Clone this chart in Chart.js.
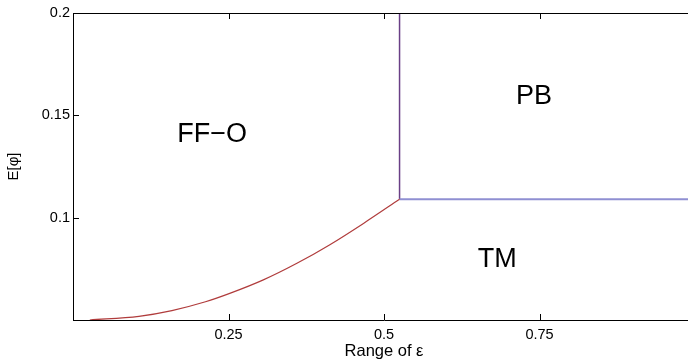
<!DOCTYPE html>
<html>
<head>
<meta charset="utf-8">
<script src="https://cdn.jsdelivr.net/npm/chart.js@4/dist/chart.umd.min.js"></script>
<style>
  html, body { margin: 0; padding: 0; background: #fff; overflow: hidden; }
  #wrap { width: 700px; height: 362px; }
</style>
</head>
<body>
<div id="wrap"><canvas id="c" width="700" height="362"></canvas></div>
<script>
// ---- data ----
const curveX = [0.027, 0.106, 0.159, 0.213, 0.252, 0.306, 0.360, 0.413, 0.467, 0.525];
const curveY = [0.050, 0.0518, 0.0546, 0.0589, 0.0630, 0.0696, 0.0777, 0.0868, 0.0972, 0.109];
const vertX = [0.525, 0.525];
const vertY = [0.109, 0.2];
const horizX = [0.525, 1.0];
const horizY = [0.109, 0.109];
const xTicks = [0.25, 0.5, 0.75];
const yTicks = [0.1, 0.15, 0.2];
const regionNames = ['FF\u2212O', 'PB', 'TM'];
const regionX = [0.2235, 0.741, 0.682];
const regionY = [0.1404, 0.159, 0.0793];
const xTitle = 'Range of \u03b5';
const yTitle = 'E[\u03c6]';

const FONT = '"Liberation Sans", Arial, Helvetica, sans-serif';
const pts = (xs, ys) => xs.map((x, i) => ({ x, y: ys[i] }));

const overlay = {
  id: 'overlay',
  afterDraw(chart) {
    const { ctx, chartArea: a, scales: { x, y } } = chart;
    ctx.save();
    // top border
    ctx.strokeStyle = '#000';
    ctx.lineWidth = 1;
    ctx.beginPath();
    ctx.moveTo(a.left, a.top + 0.5);
    ctx.lineTo(a.right, a.top + 0.5);
    ctx.stroke();
    // inward ticks
    ctx.beginPath();
    xTicks.forEach(v => {
      const px = Math.round(x.getPixelForValue(v)) + 0.5;
      ctx.moveTo(px, a.bottom); ctx.lineTo(px, a.bottom - 6);
      ctx.moveTo(px, a.top); ctx.lineTo(px, a.top + 6);
    });
    yTicks.forEach(v => {
      const py = Math.round(y.getPixelForValue(v)) + 0.5;
      ctx.moveTo(a.left, py); ctx.lineTo(a.left + 6, py);
    });
    ctx.stroke();
    // region labels
    ctx.fillStyle = '#000';
    ctx.textAlign = 'center';
    ctx.textBaseline = 'middle';
    ctx.font = '27px ' + FONT;
    regionNames.forEach((t, i) => {
      ctx.fillText(t, x.getPixelForValue(regionX[i]), y.getPixelForValue(regionY[i]));
    });
    // axis titles
    ctx.font = '16.5px ' + FONT;
    ctx.fillText(xTitle, x.getPixelForValue(0.5), 351);
    ctx.save();
    ctx.translate(14, (a.top + a.bottom) / 2);
    ctx.rotate(-Math.PI / 2);
    ctx.font = '15px ' + FONT;
    ctx.fillText(yTitle, 0, 0);
    ctx.restore();
    ctx.restore();
  }
};

new Chart(document.getElementById('c'), {
  type: 'scatter',
  data: {
    datasets: [
      { data: pts(curveX, curveY), showLine: true, borderColor: '#b03c3c', borderWidth: 1.2,
        pointRadius: 0, cubicInterpolationMode: 'monotone' },
      { data: pts(horizX, horizY), showLine: true, borderColor: '#8f8fd2', borderWidth: 2,
        pointRadius: 0 },
      { data: pts(vertX, vertY), showLine: true, borderColor: '#6a3f86', borderWidth: 1.5,
        pointRadius: 0 }
    ]
  },
  plugins: [overlay],
  options: {
    responsive: false,
    animation: false,
    layout: { padding: { left: 0, top: 13, right: 5, bottom: 0 } },
    plugins: { legend: { display: false }, tooltip: { enabled: false } },
    scales: {
      x: {
        type: 'linear', min: 0, max: 1,
        afterBuildTicks: s => { s.ticks = xTicks.map(v => ({ value: v })); },
        afterFit: s => { s.height = 42; },
        grid: { display: false, drawTicks: false },
        border: { display: true, color: '#000', width: 1 },
        ticks: { color: '#000', font: { family: FONT, size: 14.5 }, padding: 6,
                 maxRotation: 0, callback: v => String(v) }
      },
      y: {
        type: 'linear', min: 0.05, max: 0.2,
        afterBuildTicks: s => { s.ticks = yTicks.map(v => ({ value: v })); },
        afterFit: s => { s.width = 73; },
        grid: { display: false, drawTicks: false },
        border: { display: true, color: '#000', width: 1 },
        ticks: { color: '#000', font: { family: FONT, size: 14.5 }, padding: 3,
                 callback: v => String(v) }
      }
    }
  }
});
</script>
</body>
</html>
